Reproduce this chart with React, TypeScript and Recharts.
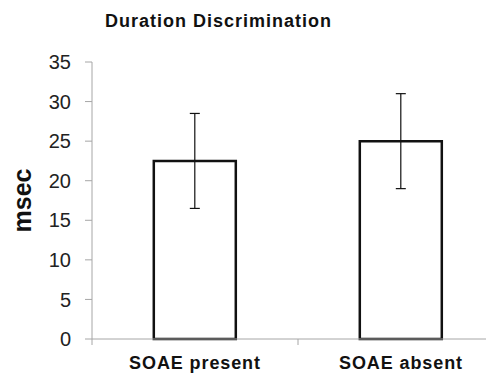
import { BarChart, Bar, XAxis, YAxis, ErrorBar } from 'recharts';

const groups = ['SOAE present', 'SOAE absent'];
const means = [22.5, 25];
const errors = [6, 6];
const yTicks = [0, 5, 10, 15, 20, 25, 30, 35];

const data = groups.map((g, i) => ({ group: g, value: means[i], err: errors[i] }));

// category label plus a tick mark at each category boundary
const GroupTick = ({ x, y, payload, index, visibleTicksCount }: any) => {
  const half = payload.offset || 0;
  const isLast = index === visibleTicksCount - 1;
  return (
    <g>
      <line x1={x - half} y1={y - 8} x2={x - half} y2={y - 2} stroke="#a6a6a6" />
      {isLast && <line x1={x + half} y1={y - 8} x2={x + half} y2={y - 2} stroke="#a6a6a6" />}
      <text
        x={x}
        y={y + 22}
        textAnchor="middle"
        fontFamily="Liberation Sans, Arial, sans-serif"
        fontWeight="bold"
        fontSize={18}
        letterSpacing={0.9}
        fill="#111"
      >
        {payload.value}
      </text>
    </g>
  );
};

export default function App() {
  return (
    <div style={{ position: 'relative', width: 486, height: 366, overflow: 'hidden' }}>
      <div
        style={{
          position: 'absolute',
          left: 97,
          top: 3,
          width: 225,
          textAlign: 'center',
          fontFamily: 'Liberation Sans, Arial, sans-serif',
          fontWeight: 'bold',
          fontSize: 18,
          letterSpacing: 1,
          color: '#111',
          whiteSpace: 'nowrap',
        }}
      >
        Duration Discrimination
      </div>
      <BarChart
        width={496}
        height={366}
        data={data}
        margin={{ top: 54, right: 0, bottom: 5, left: 0 }}
        barCategoryGap="30%"
      >
        <XAxis
          dataKey="group"
          axisLine={{ stroke: '#a6a6a6' }}
          tickLine={false}
          tick={<GroupTick />}
          height={30}
          interval={0}
        />
        <YAxis
          width={84}
          domain={[0, 35]}
          ticks={yTicks}
          interval={0}
          axisLine={{ stroke: '#a6a6a6' }}
          tickLine={{ stroke: '#a6a6a6' }}
          tickSize={7}
          tickMargin={14}
          tick={{ fill: '#222', fontSize: 20, fontFamily: 'Liberation Sans, Arial, sans-serif' }}
          label={{
            value: 'msec',
            angle: -90,
            position: 'center',
            dx: -28,
            style: { fontFamily: 'Liberation Sans, Arial, sans-serif', fontWeight: 'bold', fontSize: 25, fill: '#111' },
          }}
        />
        <Bar dataKey="value" fill="#fff" stroke="#111" strokeWidth={2.5} isAnimationActive={false}>
          <ErrorBar dataKey="err" width={5} stroke="#111" strokeWidth={1.2} isAnimationActive={false} />
        </Bar>
      </BarChart>
    </div>
  );
}
